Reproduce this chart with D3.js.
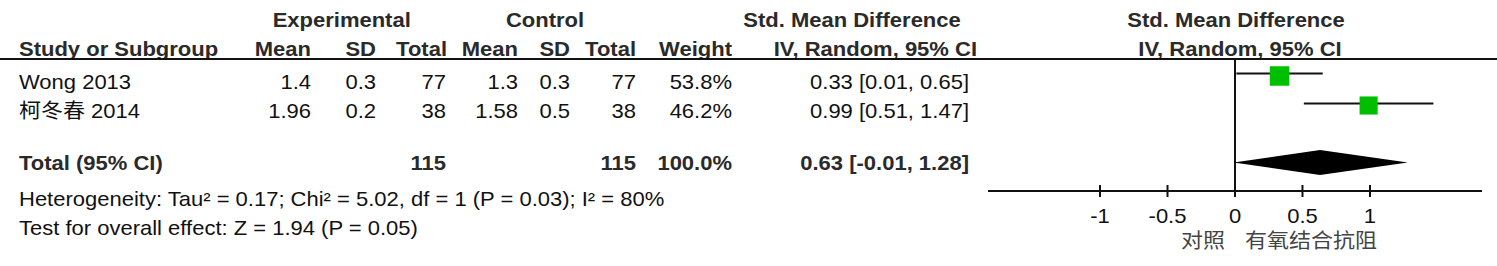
<!DOCTYPE html>
<html><head><meta charset="utf-8">
<script src="https://cdn.jsdelivr.net/npm/d3@7/dist/d3.min.js"></script>
<style>html,body{margin:0;padding:0;background:#fff;}svg{display:block;}</style>
</head><body>
<svg id="chart" width="1497" height="266"></svg>
<script>
// ---- data ----
const studies = ["Wong 2013", "柯冬春 2014"];
const expMean = [1.4, 1.96];
const expSD = [0.3, 0.2];
const expTotal = [77, 38];
const ctlMean = [1.3, 1.58];
const ctlSD = [0.3, 0.5];
const ctlTotal = [77, 38];
const weights = [53.8, 46.2];
const smd = [0.33, 0.99];
const ciLow = [0.01, 0.51];
const ciHigh = [0.65, 1.47];
const totalExp = 115, totalCtl = 115, totalWeight = 100.0;
const totalSmd = 0.63, totalLow = -0.01, totalHigh = 1.28;
const axisTicks = [-1, -0.5, 0, 0.5, 1];
const axisDomain = [-1.83, 1.83];
const heterogeneityText = "Heterogeneity: Tau² = 0.17; Chi² = 5.02, df = 1 (P = 0.03); I² = 80%";
const overallText = "Test for overall effect: Z = 1.94 (P = 0.05)";
const favoursLeft = "对照", favoursRight = "有氧结合抗阻";

// ---- drawing ----
const svg = d3.select("#chart");
const FONT = "'Liberation Sans', Arial, 'Noto Sans CJK SC', sans-serif";
const SX = 1.1;
const TXT = "#111";
const BOLD_TXT = "#2a2a2a";

function txt(x, y, s, anchor = "start", bold = false, size = 20, fill) {
  return svg.append("text")
    .attr("transform", `translate(${x},${y}) scale(${SX},1)`)
    .attr("text-anchor", anchor)
    .attr("font-family", FONT)
    .attr("font-size", size)
    .attr("font-weight", bold ? "bold" : "normal")
    .attr("fill", fill || (bold ? BOLD_TXT : TXT))
    .text(s);
}

const loc = d3.formatLocale({decimal: ".", thousands: ",", grouping: [3], currency: ["", ""], minus: "-"});
const f2 = loc.format(".2f"), f1 = loc.format(".1f"), fg = loc.format("");
const ciStr = (m, l, h) => `${f2(m)} [${f2(l)}, ${f2(h)}]`;

// column right edges
const col = {expMean: 311, expSD: 376, expTotal: 446, ctlMean: 518, ctlSD: 570, ctlTotal: 636, weight: 732, ci: 969};

// headers
txt(341.7, 27, "Experimental", "middle", true);
txt(545, 27, "Control", "middle", true);
txt(852, 27, "Std. Mean Difference", "middle", true);
txt(1236, 27, "Std. Mean Difference", "middle", true);
txt(19, 56, "Study or Subgroup", "start", true);
txt(col.expMean, 56, "Mean", "end", true);
txt(col.expSD, 56, "SD", "end", true);
txt(col.expTotal + 1, 56, "Total", "end", true);
txt(col.ctlMean, 56, "Mean", "end", true);
txt(col.ctlSD, 56, "SD", "end", true);
txt(col.ctlTotal, 56, "Total", "end", true);
txt(col.weight, 56, "Weight", "end", true);
txt(977, 56, "IV, Random, 95% CI", "end", true);
txt(1240, 56, "IV, Random, 95% CI", "middle", true);

// header rule
svg.append("line").attr("x1", 0).attr("x2", 1497).attr("y1", 59).attr("y2", 59)
  .attr("stroke", "#111").attr("stroke-width", 2);

// study rows
const rowBase = [89, 118];
studies.forEach((s, i) => {
  const y = rowBase[i];
  txt(19, y, s);
  txt(col.expMean, y, String(expMean[i]), "end");
  txt(col.expSD, y, String(expSD[i]), "end");
  txt(col.expTotal, y, String(expTotal[i]), "end");
  txt(col.ctlMean, y, String(ctlMean[i]), "end");
  txt(col.ctlSD, y, String(ctlSD[i]), "end");
  txt(col.ctlTotal, y, String(ctlTotal[i]), "end");
  txt(col.weight, y, f1(weights[i]) + "%", "end");
  txt(col.ci, y, ciStr(smd[i], ciLow[i], ciHigh[i]), "end");
});

// total row
const totBase = 170;
txt(19, totBase, "Total (95% CI)", "start", true);
txt(col.expTotal, totBase, String(totalExp), "end", true);
txt(col.ctlTotal, totBase, String(totalCtl), "end", true);
txt(col.weight, totBase, f1(totalWeight) + "%", "end", true);
txt(col.ci, totBase, ciStr(totalSmd, totalLow, totalHigh), "end", true);
txt(19, 206, heterogeneityText);
txt(19, 235, overallText);

// forest plot
const x = d3.scaleLinear().domain(axisDomain).range([988, 1482]);
const size = d3.scaleSqrt().domain([0, 100]).range([0, 26.6]);
const axisY = 191;
const lineY = [73.5, 103.5];
const sqY = [76, 105.5];

// zero line
svg.append("line").attr("x1", x(0)).attr("x2", x(0)).attr("y1", 59).attr("y2", axisY)
  .attr("stroke", "#111").attr("stroke-width", 2);

// CI lines
svg.selectAll(".ci").data(studies).join("line")
  .attr("x1", (d, i) => x(ciLow[i])).attr("x2", (d, i) => x(ciHigh[i]))
  .attr("y1", (d, i) => lineY[i]).attr("y2", (d, i) => lineY[i])
  .attr("stroke", "#111").attr("stroke-width", 2);

// squares
svg.selectAll(".sq").data(studies).join("rect")
  .attr("x", (d, i) => x(smd[i]) - size(weights[i]) / 2)
  .attr("y", (d, i) => sqY[i] - size(weights[i]) / 2)
  .attr("width", (d, i) => size(weights[i]))
  .attr("height", (d, i) => size(weights[i]))
  .attr("fill", "#00bf00");

// diamond
const dy = 162.5, dh = 12.5;
svg.append("path")
  .attr("d", `M${x(totalLow)},${dy} L${x(totalSmd)},${dy - dh} L${x(totalHigh)},${dy} L${x(totalSmd)},${dy + dh} Z`)
  .attr("fill", "#000");

// axis
const axis = svg.append("g").attr("transform", `translate(0,${axisY})`);
axis.append("line").attr("x1", x.range()[0]).attr("x2", x.range()[1])
  .attr("stroke", "#111").attr("stroke-width", 2);
axis.selectAll(".tk").data(axisTicks).join("line")
  .attr("x1", d => x(d)).attr("x2", d => x(d)).attr("y1", -6).attr("y2", 6)
  .attr("stroke", "#111").attr("stroke-width", 2);
axisTicks.forEach(t => txt(x(t), 223, fg(t), "middle"));

// favours labels
txt(x(0) - 10, 248, favoursLeft, "end", false, 20, "#444");
txt(x(0) + 10, 248, favoursRight, "start", false, 20, "#444");
</script>
</body></html>
